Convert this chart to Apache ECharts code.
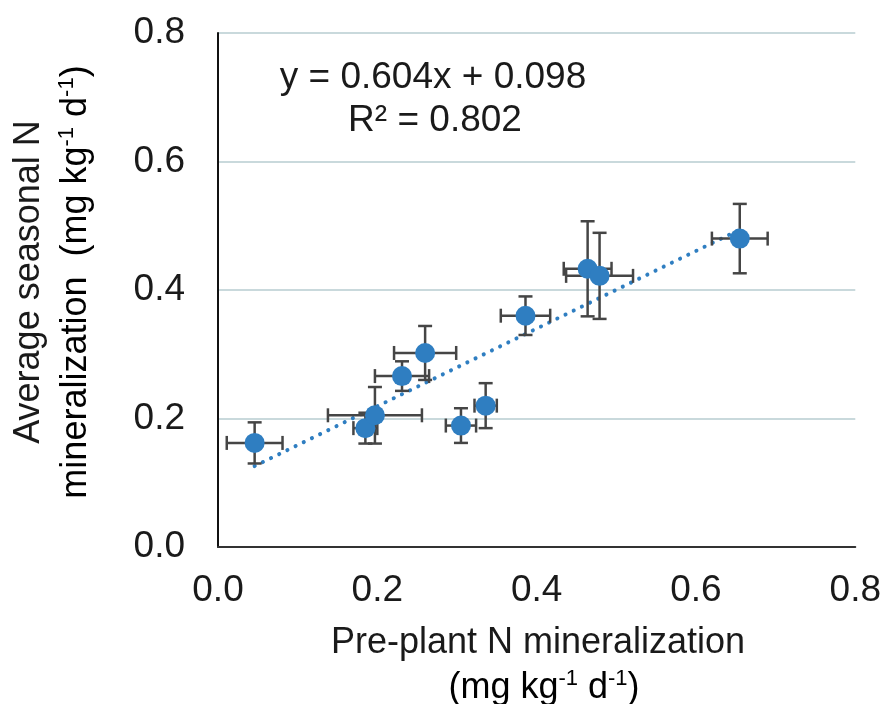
<!DOCTYPE html>
<html>
<head>
<meta charset="utf-8">
<script src="https://cdn.jsdelivr.net/npm/echarts@6/dist/echarts.min.js"></script>
<style>
  html, body { margin: 0; padding: 0; background: #fff; }
  #chart { width: 884px; height: 704px; }
</style>
</head>
<body>
<div id="chart"></div>
<script>
// values
var preplantN = [0.046, 0.185, 0.197, 0.231, 0.260, 0.305, 0.336, 0.386, 0.464, 0.479, 0.655];
var seasonalN = [0.162, 0.185, 0.205, 0.266, 0.302, 0.189, 0.220, 0.360, 0.433, 0.422, 0.480];
var preplantErr = [0.035, 0.015, 0.059, 0.034, 0.039, 0.019, 0.014, 0.031, 0.030, 0.042, 0.035];
var seasonalErr = [0.032, 0.024, 0.044, 0.023, 0.042, 0.027, 0.035, 0.030, 0.074, 0.067, 0.054];
// ends of the dotted trendline
var trendX = [0.046, 0.655];
var trendY = [0.126, 0.494];
var axisTicks = [0, 0.2, 0.4, 0.6, 0.8];

var blue = "#2f7ec1";
var txt = "#1a1a1a";
var font = "Liberation Sans, Arial, sans-serif";

var chart = echarts.init(document.getElementById("chart"));

var points = preplantN.map(function (x, i) { return [x, seasonalN[i]]; });
var bars = preplantN.map(function (x, i) { return [x, seasonalN[i], preplantErr[i], seasonalErr[i]]; });
var trend = trendX.map(function (x, i) { return [x, trendY[i]]; });

var rich = {
  a: { fontSize: 36, lineHeight: 44, fontFamily: font, color: txt, verticalAlign: "bottom" },
  s: { fontSize: 22, lineHeight: 22, fontFamily: font, color: txt, verticalAlign: "top", padding: [6, 0, 0, 0] }
};

var option = {
  animation: false,
  grid: { left: 218, right: 26, top: 33, bottom: 157 },
  xAxis: {
    type: "value",
    min: axisTicks[0],
    max: axisTicks[axisTicks.length - 1],
    interval: 0.2,
    axisLine: { show: true, lineStyle: { color: "#333", width: 2 } },
    axisTick: { show: false },
    splitLine: { show: false },
    axisLabel: {
      fontSize: 37, fontFamily: font, color: txt, margin: 25,
      formatter: function (v) { return v.toFixed(1); }
    }
  },
  yAxis: {
    type: "value",
    min: axisTicks[0],
    max: axisTicks[axisTicks.length - 1],
    interval: 0.2,
    axisLine: { show: true, lineStyle: { color: "#111", width: 2 } },
    axisTick: { show: false },
    splitLine: { show: true, lineStyle: { color: "#c9d9dc", width: 2 } },
    axisLabel: {
      fontSize: 37, fontFamily: font, color: txt, margin: 33,
      formatter: function (v) { return v.toFixed(1); }
    }
  },
  graphic: [
    { type: "text", x: 433, y: 78, style: { text: "y = 0.604x + 0.098", font: "37px " + font, fill: txt, align: "center", verticalAlign: "middle" } },
    { type: "text", x: 435, y: 121, style: { text: "R² = 0.802", font: "37px " + font, fill: txt, align: "center", verticalAlign: "middle" } },
    { type: "text", x: 538, y: 643, style: { text: "Pre-plant N mineralization", font: "36px " + font, fill: txt, align: "center", verticalAlign: "middle" } },
    { type: "text", x: 544, y: 684, style: { text: "{a|(mg kg}{s|-1}{a| d}{s|-1}{a|)}", rich: rich, align: "center", verticalAlign: "middle" } },
    { type: "text", x: 29, y: 282, rotation: Math.PI / 2, style: { text: "Average seasonal N", font: "36px " + font, fill: txt, align: "center", verticalAlign: "middle" } },
    { type: "text", x: 72, y: 282, rotation: Math.PI / 2, style: { text: "{a|mineralization  (mg kg}{s|-1}{a| d}{s|-1}{a|)}", rich: rich, align: "center", verticalAlign: "middle" } }
  ],
  series: [
    {
      type: "line",
      data: trend,
      symbol: "none",
      z: 1,
      lineStyle: { color: blue, width: 4, type: [0.1, 9], cap: "round" }
    },
    {
      type: "custom",
      data: bars,
      z: 2,
      encode: { x: 0, y: 1 },
      renderItem: function (params, api) {
        var x = api.value(0), y = api.value(1), ex = api.value(2), ey = api.value(3);
        var l = api.coord([x - ex, y]), r = api.coord([x + ex, y]);
        var t = api.coord([x, y + ey]), b = api.coord([x, y - ey]);
        var c = 7;
        var st = { stroke: "#454545", lineWidth: 2.5 };
        return {
          type: "group",
          children: [
            { type: "line", shape: { x1: l[0], y1: l[1], x2: r[0], y2: r[1] }, style: st },
            { type: "line", shape: { x1: l[0], y1: l[1] - c, x2: l[0], y2: l[1] + c }, style: st },
            { type: "line", shape: { x1: r[0], y1: r[1] - c, x2: r[0], y2: r[1] + c }, style: st },
            { type: "line", shape: { x1: t[0], y1: t[1], x2: b[0], y2: b[1] }, style: st },
            { type: "line", shape: { x1: t[0] - c, y1: t[1], x2: t[0] + c, y2: t[1] }, style: st },
            { type: "line", shape: { x1: b[0] - c, y1: b[1], x2: b[0] + c, y2: b[1] }, style: st }
          ]
        };
      }
    },
    {
      type: "scatter",
      data: points,
      z: 3,
      symbolSize: 20,
      itemStyle: { color: blue, opacity: 1 }
    }
  ]
};

chart.setOption(option);
window.addEventListener("resize", function () { chart.resize(); });
</script>
</body>
</html>
